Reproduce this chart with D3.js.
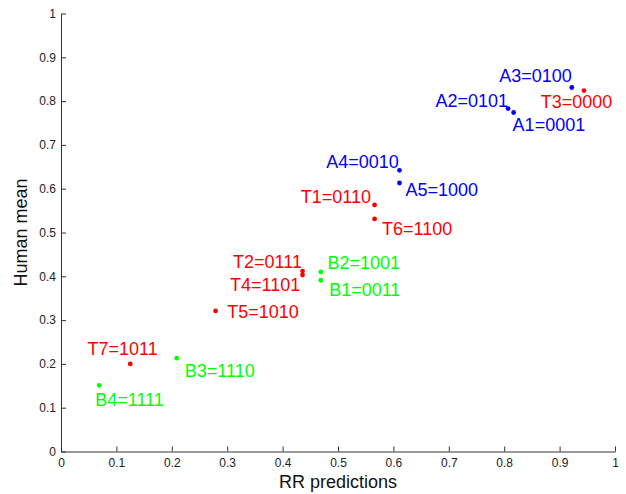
<!DOCTYPE html>
<html>
<head>
<meta charset="utf-8">
<script src="https://cdn.jsdelivr.net/npm/d3@7"></script>
<style>
  html, body { margin: 0; padding: 0; background: #fff; }
  svg { display: block; font-family: "Liberation Sans", Arial, sans-serif; }
</style>
</head>
<body>
<svg id="chart" width="626" height="494"></svg>
<script>
// ---- data ----
const names  = ["A1", "A2", "A3", "A4", "A5", "T1", "T2", "T3", "T4", "T5", "T6", "T7", "B1", "B2", "B3", "B4"];
const codes  = ["0001", "0101", "0100", "0010", "1000", "0110", "0111", "0000", "1101", "1010", "1100", "1011", "0011", "1001", "1110", "1111"];
const groups = ["A", "A", "A", "A", "A", "T", "T", "T", "T", "T", "T", "T", "B", "B", "B", "B"];
const rrPred = [0.817, 0.807, 0.922, 0.611, 0.611, 0.566, 0.436, 0.944, 0.436, 0.279, 0.566, 0.125, 0.469, 0.469, 0.209, 0.069];
const humanMean = [0.774, 0.783, 0.831, 0.642, 0.613, 0.563, 0.412, 0.824, 0.403, 0.321, 0.531, 0.200, 0.391, 0.410, 0.213, 0.151];
const xTicks = [0, 0.1, 0.2, 0.3, 0.4, 0.5, 0.6, 0.7, 0.8, 0.9, 1];
const yTicks = [0, 0.1, 0.2, 0.3, 0.4, 0.5, 0.6, 0.7, 0.8, 0.9, 1];
const xTickLabels = ["0", "0.1", "0.2", "0.3", "0.4", "0.5", "0.6", "0.7", "0.8", "0.9", "1"];
const yTickLabels = ["0", "0.1", "0.2", "0.3", "0.4", "0.5", "0.6", "0.7", "0.8", "0.9", "1"];
const xLabel = "RR predictions";
const yLabel = "Human mean";

// ---- layout / style ----
const groupColor = { A: "#0000ff", T: "#ff0000", B: "#00ff00" };
// label placement relative to the point: [anchor, dx, dy]
const labelPlace = [
  ["start", -1, 18.3],   // A1
  ["end", 0, -1.4],      // A2
  ["end", 0, -5.6],      // A3
  ["end", -0.7, -2.6],   // A4
  ["start", 6, 12.7],    // A5
  ["end", -3.6, -1.7],   // T1
  ["end", -0.6, -2.7],   // T2
  ["start", -43.3, 17.6],// T3
  ["end", -2.3, 16],     // T4
  ["start", 11.6, 6.7],  // T5
  ["start", 7.4, 16],    // T6
  ["start", -42.7, -8.7],// T7
  ["start", 8.3, 15.4],  // B1
  ["start", 6.6, -3.4],  // B2
  ["start", 8, 18.3],    // B3
  ["start", -4, 20.3]    // B4
];

const W = 626, H = 494;
const margin = { left: 61, right: 11, top: 13.5, bottom: 42.5 };
const svg = d3.select("#chart");

const x = d3.scaleLinear().domain([0, 1]).range([margin.left, W - margin.right]);
const y = d3.scaleLinear().domain([0, 1]).range([H - margin.bottom, margin.top]);

const axisColor = "#333";
const tickTextColor = "#222";

const xAxis = d3.axisBottom(x).tickValues(xTicks)
  .tickFormat((d, i) => xTickLabels[i]).tickSizeInner(-5).tickSizeOuter(0).tickPadding(6.5);
const yAxis = d3.axisLeft(y).tickValues(yTicks)
  .tickFormat((d, i) => yTickLabels[i]).tickSizeInner(-5).tickSizeOuter(0).tickPadding(5);

const gx = svg.append("g").attr("transform", `translate(0,${y(0)})`).call(xAxis);
const gy = svg.append("g").attr("transform", `translate(${x(0)},0)`).call(yAxis);
[gx, gy].forEach(g => {
  g.select(".domain").attr("stroke", axisColor).attr("stroke-width", 1);
  g.selectAll(".tick line").attr("stroke", axisColor).attr("stroke-width", 1);
  g.selectAll(".tick text").attr("fill", tickTextColor)
    .style("font-size", "12px").style("font-family", "'Liberation Sans', Arial, sans-serif");
});

// axis titles
svg.append("text")
  .attr("x", (x(0) + x(1)) / 2).attr("y", 488)
  .attr("text-anchor", "middle").attr("fill", "#111")
  .style("font-size", "18px").text(xLabel);
svg.append("text")
  .attr("transform", `translate(27,${(y(0) + y(1)) / 2}) rotate(-90)`)
  .attr("text-anchor", "middle").attr("fill", "#111")
  .style("font-size", "18px").text(yLabel);

// points
const pts = names.map((n, i) => ({ name: n, code: codes[i], g: groups[i], x: rrPred[i], y: humanMean[i], place: labelPlace[i] }));

svg.append("g").selectAll("circle").data(pts).join("circle")
  .attr("cx", d => x(d.x)).attr("cy", d => y(d.y)).attr("r", 2.4)
  .attr("fill", d => groupColor[d.g]);

svg.append("g").selectAll("text").data(pts).join("text")
  .attr("x", d => x(d.x) + d.place[1])
  .attr("y", d => y(d.y) + d.place[2])
  .attr("text-anchor", d => d.place[0])
  .attr("fill", d => groupColor[d.g])
  .style("font-size", "18px")
  .text(d => `${d.name}=${d.code}`);
</script>
</body>
</html>
